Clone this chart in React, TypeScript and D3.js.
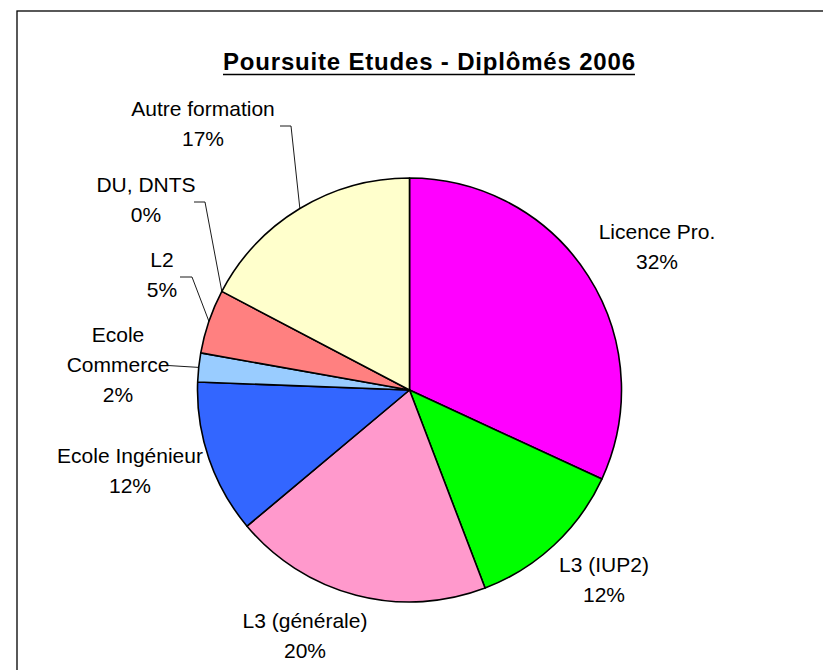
import React from "react";
import * as d3 from "d3";

const categories = [
  "Licence Pro.",
  "L3 (IUP2)",
  "L3 (générale)",
  "Ecole Ingénieur",
  "Ecole Commerce",
  "L2",
  "DU, DNTS",
  "Autre formation",
];
const values = [31.9, 12.3, 19.7, 11.7, 2.2, 4.9, 0, 17.3];
const colors = [
  "#FF00FF",
  "#00FF00",
  "#FF99CC",
  "#3366FF",
  "#99CCFF",
  "#FF8080",
  "#CCFFCC",
  "#FFFFCC",
];
const title = "Poursuite Etudes - Diplômés 2006";

// layout (not data)
const W = 823;
const H = 670;
const CX = 409.5;
const CY = 390;
const R = 212;
const labelLayout: { x: number; y: number; lines?: string[] }[] = [
  { x: 657, y: 239 },
  { x: 604, y: 572 },
  { x: 305, y: 628 },
  { x: 130, y: 463 },
  { x: 118, y: 342, lines: ["Ecole", "Commerce"] },
  { x: 162, y: 267 },
  { x: 146, y: 192 },
  { x: 203, y: 116 },
];
const leaderLayout: { idx: number; pts: [number, number][] }[] = [
  { idx: 7, pts: [[280, 126], [291, 126]] },
  { idx: 6, pts: [[194, 202], [205, 202]] },
  { idx: 5, pts: [[180, 277], [192, 277]] },
  { idx: 4, pts: [[168, 365.5]] },
];

export default function App() {
  const total = d3.sum(values);
  const pie = d3
    .pie<number>()
    .sort(null)
    .value((d) => d)
    .startAngle(0)
    .endAngle(2 * Math.PI);
  const arcs = pie(values);
  const arc = d3.arc<d3.PieArcDatum<number>>().innerRadius(0).outerRadius(R);

  const font = "'Liberation Sans', Arial, Helvetica, sans-serif";

  return (
    <svg
      width={W}
      height={H}
      style={{ position: "absolute", left: 0, top: 0, background: "#fff" }}
    >
      <rect x={0} y={0} width={W} height={H} fill="#fff" />
      <rect x={17} y={11} width={1000} height={1000} fill="#fff" stroke="#000" strokeWidth={1.3} />
      <text
        x={429}
        y={70}
        textAnchor="middle"
        fontFamily={font}
        fontWeight="bold"
        fontSize={24}
        textLength={412}
        lengthAdjust="spacing"
        fill="#000"
      >
        {title}
      </text>
      <line x1={223} x2={635} y1={74.5} y2={74.5} stroke="#000" strokeWidth={1.6} />
      <g transform={`translate(${CX},${CY})`}>
        {arcs.map((a, i) =>
          a.endAngle - a.startAngle > 0 ? (
            <path
              key={i}
              d={arc(a) || ""}
              fill={colors[i]}
              stroke="#000"
              strokeWidth={1.6}
              strokeLinejoin="round"
            />
          ) : null
        )}
      </g>
      {leaderLayout.map((l, k) => {
        const a = arcs[l.idx];
        const mid = (a.startAngle + a.endAngle) / 2;
        const ex = CX + R * Math.sin(mid);
        const ey = CY - R * Math.cos(mid);
        const pts = [...l.pts, [ex, ey]] as [number, number][];
        return (
          <path
            key={k}
            d={d3.line()(pts) || ""}
            fill="none"
            stroke="#000"
            strokeWidth={0.9}
          />
        );
      })}
      {categories.map((c, i) => {
        const lay = labelLayout[i];
        const lines = [
          ...(lay.lines || [c]),
          `${Math.round((values[i] / total) * 100)}%`,
        ];
        return (
          <text
            key={i}
            textAnchor="middle"
            fontFamily={font}
            fontSize={21}
            fill="#000"
          >
            {lines.map((t, j) => (
              <tspan key={j} x={lay.x} y={lay.y + j * 30}>
                {t}
              </tspan>
            ))}
          </text>
        );
      })}
    </svg>
  );
}
